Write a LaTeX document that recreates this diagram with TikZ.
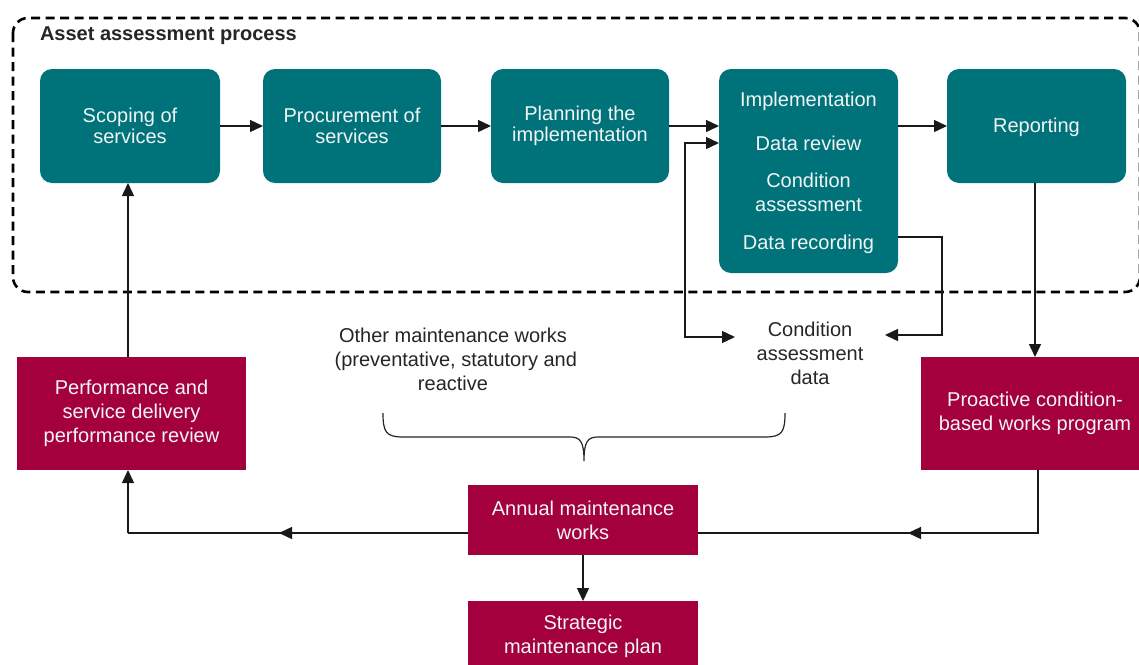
\documentclass[tikz,border=0pt]{standalone}
\usepackage{fontspec}
\setmainfont{Liberation Sans}
\usetikzlibrary{arrows.meta,calc}
\definecolor{tealbox}{RGB}{0,114,122}
\definecolor{redbox}{RGB}{165,0,62}
\definecolor{boxtext}{RGB}{240,245,245}
\begin{document}
\begin{tikzpicture}[x=1pt,y=-1pt,
  every node/.style={font=\fontsize{20}{24}\selectfont, inner sep=0pt, outer sep=0pt},
  tight/.style={font=\fontsize{20}{21.5}\selectfont},
  tbox/.style={fill=tealbox, rounded corners=12pt, text=boxtext, align=center},
  rbox/.style={fill=redbox, text=boxtext, align=center},
  plain/.style={text=black!85, align=center},
  conn/.style={line width=1.4pt, draw=black!90},
  tip/.tip={Triangle[length=13pt,width=12pt]},
  arr/.style={conn, -tip},
]
\clip (0,0) rectangle (1139,664);
\fill[white] (0,0) rectangle (1139,664);

% dashed process frame
\draw[line width=2.6pt, dash pattern=on 9pt off 5.5pt, rounded corners=15pt]
  (13,18) rectangle (1140,292);
\node[anchor=west, font=\fontsize{20}{22}\selectfont\bfseries, text=black!85] (title) at (40,36) {Asset assessment process};

% teal boxes
\node[tbox, minimum width=180pt, minimum height=114pt] (scope) at (130,126) {};
\node[tbox, minimum width=178pt, minimum height=114pt] (proc) at (352,126) {};
\node[tbox, minimum width=178pt, minimum height=114pt] (plan) at (580,126) {};
\node[tbox, minimum width=179pt, minimum height=204pt] (impl) at (808.5,171) {};
\node[tbox, minimum width=179pt, minimum height=114pt] (rep) at (1036.5,126) {};

\node[tight, text=boxtext, align=center] (scopeT) at (130,126) {Scoping of\\services};
\node[tight, text=boxtext, align=center] (procT) at (352,126) {Procurement of\\services};
\node[tight, text=boxtext, align=center] (planT) at (580,126) {Planning the\\implementation};
\node[text=boxtext] (implA) at (808.5,101) {Implementation};
\node[text=boxtext] (implB) at (808.5,143) {Data review};
\node[text=boxtext, align=center] (implC) at (808.5,192) {Condition\\assessment};
\node[text=boxtext] (implD) at (808.5,244) {Data recording};
\node[text=boxtext] (repT) at (1036.5,127) {Reporting};

% red boxes
\node[rbox, minimum width=229pt, minimum height=113pt] (perf) at (131.5,413.5) {Performance and\\service delivery\\performance review};
\node[rbox, minimum width=228pt, minimum height=113pt] (proa) at (1035,413.5) {Proactive condition-\\based works program};
\node[rbox, minimum width=230pt, minimum height=70pt] (annual) at (583,520) {Annual maintenance\\works};
\node[rbox, minimum width=230pt, minimum height=71pt] (strat) at (583,636.5) {Strategic\\maintenance plan};

% plain texts
\node[plain] (other) at (453,359) {Other maintenance works\\\ (preventative, statutory and\\reactive};
\node[plain] (cad) at (810,353) {Condition\\assessment\\data};

% top row connectors
\draw[arr] (scope.east) -- (proc.west);
\draw[arr] (proc.east) -- (plan.west);
\draw[arr] (plan.east) -- (plan.east -| impl.west);
\draw[arr] (impl.east |- rep.west) -- (rep.west);

% double-headed feedback between impl and condition data
\coordinate (fbA) at (685,143);
\coordinate (fbB) at (685,337);
\coordinate (fbC) at (735,337);
\draw[conn, tip-tip] (fbA -| impl.west) -- (fbA) -- (fbB) -- (fbC);

% data recording to condition data
\coordinate (drA) at (942,237);
\coordinate (drB) at (942,335);
\coordinate (drC) at (885,335);
\draw[arr] (impl.east |- drA) -- (drA) -- (drB) -- (drC);

% reporting to proactive
\coordinate (rpA) at (1035,183);
\draw[arr] (rpA) -- (rpA |- proa.north);

% proactive to annual
\coordinate (pbA) at (1038,533);
\coordinate (pbM) at (908,533);
\draw[conn] (proa.south -| pbA) -- (pbA) -- (annual.east |- pbA);
\draw[arr] (pbA) -- (pbM);

% annual to performance
\coordinate (alA) at (128,533);
\coordinate (alM) at (279,533);
\draw[conn] (annual.west |- alA) -- (alA);
\draw[arr] (annual.west |- alA) -- (alM);
\draw[arr] (alA) -- (alA |- perf.south);

% performance to scoping
\draw[arr] (perf.north -| alA) -- (scope.south -| alA);

% annual to strategic
\draw[arr] (annual.south) -- (strat.north);

% brace
\coordinate (brL) at (383,413);
\coordinate (brR) at (785,413);
\coordinate (brT) at (584,461);
\draw[line width=1.2pt, draw=black!85]
  (brL) .. controls (383,432) and (386,437) .. (403,437)
  -- (570,437) .. controls (580,437) and (584,441) .. (brT)
  (brT) .. controls (584,441) and (588,437) .. (598,437)
  -- (765,437) .. controls (782,437) and (785,432) .. (brR);
\end{tikzpicture}
\end{document}
